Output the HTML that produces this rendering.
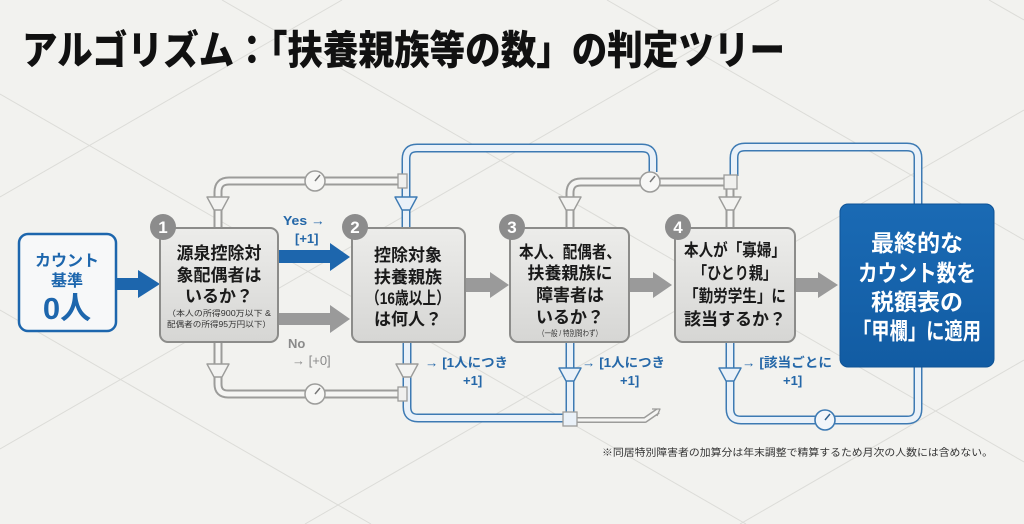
<!DOCTYPE html>
<html><head><meta charset="utf-8">
<style>
html,body{margin:0;padding:0;background:#f2f2ef;width:1024px;height:524px;overflow:hidden;}
svg{display:block;overflow:hidden;}
text{font-family:"Liberation Sans","Noto Sans CJK JP",sans-serif;}
</style></head>
<body>
<svg width="1024" height="524" viewBox="0 0 1024 524" xmlns="http://www.w3.org/2000/svg">
<defs>
<linearGradient id="gbox" x1="0" y1="0" x2="0" y2="1">
<stop offset="0" stop-color="#ececea"/><stop offset="1" stop-color="#d6d6d4"/>
</linearGradient>
<linearGradient id="bbox" x1="0" y1="0" x2="0" y2="1">
<stop offset="0" stop-color="#1a6ab4"/><stop offset="1" stop-color="#125ca3"/>
</linearGradient>
</defs>
<rect width="1024" height="524" fill="#f2f2ef"/>
<!-- background lattice (clipped to frame) -->
<g stroke="#dcdcd8" stroke-width="1" fill="none">
<line x1="222" y1="0" x2="1024" y2="462"/>
<line x1="0" y1="94" x2="746" y2="524"/>
<line x1="0" y1="310" x2="371" y2="524"/>
<line x1="607" y1="0" x2="1024" y2="240"/>
<line x1="989" y1="0" x2="1024" y2="20"/>
<line x1="0" y1="197" x2="342" y2="0"/>
<line x1="0" y1="449" x2="779" y2="0"/>
<line x1="305" y1="524" x2="1024" y2="110"/>
<line x1="740" y1="524" x2="1024" y2="360"/>
</g>

<!-- Title -->
<text x="22" y="64" font-size="40" font-weight="900" fill="#111" textLength="763" lengthAdjust="spacingAndGlyphs">アルゴリズム：「扶養親族等の数」の判定ツリー</text>

<!-- ===== PIPES ===== -->
<g fill="none" stroke-linejoin="round">
<g stroke="#9c9c9a" stroke-width="9">
<path d="M218 228 V192 Q218 181 229 181 H402"/>
<path d="M218 343 V384 Q218 394 228 394 H404"/>
<path d="M570 228 V193 Q570 182 581 182 H640"/>
<path d="M660 182 H730 V228"/>
</g>
<g stroke="#f5f5f3" stroke-width="5">
<path d="M218 228 V192 Q218 181 229 181 H402"/>
<path d="M218 343 V384 Q218 394 228 394 H404"/>
<path d="M570 228 V193 Q570 182 581 182 H640"/>
<path d="M660 182 H730 V228"/>
</g>
<path d="M576 420 H645 L658 411" stroke="#9c9c9a" stroke-width="6"/>
<path d="M576 420 H645 L658 411" stroke="#f5f5f3" stroke-width="3"/>
<path d="M652 409 L660 409 L657 416" stroke="#9c9c9a" stroke-width="1.3"/>

<g stroke="#3d7ab3" stroke-width="9">
<path d="M406 228 V159 Q406 148 417 148 H642 Q653 148 653 159 V172"/>
<path d="M407 343 V407 Q407 418 418 418 H570 V343"/>
<path d="M734 176 V158 Q734 147 745 147 H907 Q918 147 918 158 V206"/>
<path d="M730 343 V409 Q730 420 741 420 H907 Q918 420 918 409 V365"/>
</g>
<g stroke="#eaf1f8" stroke-width="6">
<path d="M406 228 V159 Q406 148 417 148 H642 Q653 148 653 159 V172"/>
<path d="M407 343 V407 Q407 418 418 418 H570 V343"/>
<path d="M734 176 V158 Q734 147 745 147 H907 Q918 147 918 158 V206"/>
<path d="M730 343 V409 Q730 420 741 420 H907 Q918 420 918 409 V365"/>
</g>
</g>
<g stroke="#9c9c9a" stroke-width="1.3" fill="#f0f0ee">
<rect x="398" y="174" width="9" height="14"/>
<rect x="398" y="387" width="9" height="14"/>
<rect x="724" y="175" width="13" height="14"/>
</g>
<rect x="563" y="412" width="14" height="14" fill="#eaf1f8" stroke="#9c9c9a" stroke-width="1.3"/>

<!-- Funnels -->
<g stroke-width="1.4" stroke-linejoin="round">
<g stroke="#9c9c9a" fill="#f3f3f1">
<path d="M207 197 H229 L222 210 H214 Z"/>
<path d="M207 364 H229 L222 377 H214 Z"/>
<path d="M559 197 H581 L574 210 H566 Z"/>
<path d="M719 197 H741 L734 210 H726 Z"/>
<path d="M396 364 H418 L411 377 H403 Z"/>
</g>
<g stroke="#3d7ab3" fill="#eaf1f8">
<path d="M395 197 H417 L410 210 H402 Z"/>
<path d="M559 368 H581 L574 381 H566 Z"/>
<path d="M719 368 H741 L734 381 H726 Z"/>
</g>
</g>

<!-- Gauges -->
<g>
<circle cx="315" cy="181" r="10" fill="#f7f7f5" stroke="#9c9c9a" stroke-width="1.5"/>
<line x1="315" y1="181" x2="320" y2="175" stroke="#777" stroke-width="1.5"/>
<circle cx="315" cy="394" r="10" fill="#f7f7f5" stroke="#9c9c9a" stroke-width="1.5"/>
<line x1="315" y1="394" x2="320" y2="388" stroke="#777" stroke-width="1.5"/>
<circle cx="650" cy="182" r="10" fill="#f7f7f5" stroke="#9c9c9a" stroke-width="1.5"/>
<line x1="650" y1="182" x2="655" y2="176" stroke="#777" stroke-width="1.5"/>
<circle cx="825" cy="420" r="10" fill="#f2f6fa" stroke="#3d7ab3" stroke-width="1.6"/>
<line x1="825" y1="420" x2="830" y2="414" stroke="#2d5f8f" stroke-width="1.5"/>
</g>

<!-- ===== ARROWS ===== -->
<path d="M117 278 H138 V270 L160 284 L138 298 V290 H117 Z" fill="#1d66ad"/>
<path d="M279 250 H330 V243 L350 257 L330 271 V263 H279 Z" fill="#1d66ad"/>
<path d="M279 313 H330 V305 L350 319 L330 333 V325 H279 Z" fill="#9a9a9a"/>
<path d="M466 278 H490 V272 L509 285 L490 298 V292 H466 Z" fill="#9a9a9a"/>
<path d="M630 278 H653 V272 L672 285 L653 298 V292 H630 Z" fill="#9a9a9a"/>
<path d="M796 278 H818 V272 L838 285 L818 298 V292 H796 Z" fill="#9a9a9a"/>

<!-- ===== BOXES ===== -->
<rect x="19" y="234" width="97" height="97" rx="9" fill="#f7f8f9" stroke="#1d66ad" stroke-width="2.5"/>
<g fill="#1d66ad" font-weight="bold" text-anchor="middle">
<text x="67" y="266" font-size="16">カウント</text>
<text x="67" y="286" font-size="16">基準</text>
<text x="67" y="319" font-size="31">0人</text>
</g>

<g fill="url(#gbox)" stroke="#8c8c8a" stroke-width="2">
<rect x="160" y="228" width="118" height="114" rx="8"/>
<rect x="352" y="228" width="113" height="114" rx="8"/>
<rect x="510" y="228" width="119" height="114" rx="8"/>
<rect x="675" y="228" width="120" height="114" rx="8"/>
</g>
<rect x="840" y="204" width="154" height="163" rx="8" fill="url(#bbox)" stroke="#0f5396" stroke-width="1"/>

<g fill="#8c8c8c">
<circle cx="163" cy="227" r="13"/>
<circle cx="355" cy="227" r="13"/>
<circle cx="512" cy="227" r="13"/>
<circle cx="678" cy="227" r="13"/>
</g>
<g fill="#fff" font-weight="bold" font-size="17" text-anchor="middle">
<text x="163" y="233">1</text>
<text x="355" y="233">2</text>
<text x="512" y="233">3</text>
<text x="678" y="233">4</text>
</g>

<g fill="#1a1a1a" font-weight="bold" text-anchor="middle" font-size="17">
<text x="219" y="259">源泉控除対</text>
<text x="219" y="281">象配偶者は</text>
<text x="219" y="302">いるか？</text>
<text x="408" y="261">控除対象</text>
<text x="408" y="283">扶養親族</text>
<text x="408" y="304" textLength="84" lengthAdjust="spacingAndGlyphs">（16歳以上）</text>
<text x="408" y="325">は何人？</text>
<text x="570" y="258" textLength="102" lengthAdjust="spacingAndGlyphs">本人、配偶者、</text>
<text x="570" y="279">扶養親族に</text>
<text x="570" y="301">障害者は</text>
<text x="570" y="323">いるか？</text>
<text x="735" y="256" textLength="102" lengthAdjust="spacingAndGlyphs">本人が「寡婦」</text>
<text x="735" y="279" textLength="84" lengthAdjust="spacingAndGlyphs">「ひとり親」</text>
<text x="735" y="302" textLength="102" lengthAdjust="spacingAndGlyphs">「勤労学生」に</text>
<text x="735" y="325">該当するか？</text>
</g>
<g fill="#333" text-anchor="middle" font-size="8">
<text x="219" y="316" textLength="104" lengthAdjust="spacingAndGlyphs">（本人の所得900万以下 &amp;</text>
<text x="219" y="327" textLength="104" lengthAdjust="spacingAndGlyphs">配偶者の所得95万円以下）</text>
<text x="570" y="336" textLength="64" lengthAdjust="spacingAndGlyphs">（一般 / 特別問わず）</text>
</g>
<g fill="#fff" font-weight="bold" text-anchor="middle" font-size="23">
<text x="917" y="251">最終的な</text>
<text x="917" y="281" textLength="118" lengthAdjust="spacingAndGlyphs">カウント数を</text>
<text x="917" y="310">税額表の</text>
<text x="917" y="339" textLength="128" lengthAdjust="spacingAndGlyphs">「甲欄」に適用</text>
</g>

<g font-weight="bold" font-size="13" fill="#2467a8">
<text x="283" y="225" textLength="42" lengthAdjust="spacingAndGlyphs">Yes →</text>
<text x="295" y="243">[+1]</text>
<text x="425" y="367" textLength="83" lengthAdjust="spacingAndGlyphs">→ [1人につき</text>
<text x="463" y="385">+1]</text>
<text x="582" y="367" textLength="83" lengthAdjust="spacingAndGlyphs">→ [1人につき</text>
<text x="620" y="385">+1]</text>
<text x="742" y="367" textLength="90" lengthAdjust="spacingAndGlyphs">→ [該当ごとに</text>
<text x="783" y="385">+1]</text>
</g>
<g font-size="13" fill="#8a8a8a">
<text x="288" y="348" font-weight="bold">No</text>
<text x="292" y="365">→ [+0]</text>
</g>

<text x="602" y="456" font-size="10" fill="#333" textLength="391" lengthAdjust="spacingAndGlyphs">※同居特別障害者の加算分は年末調整で精算するため月次の人数には含めない。</text>
</svg>
</body></html>
